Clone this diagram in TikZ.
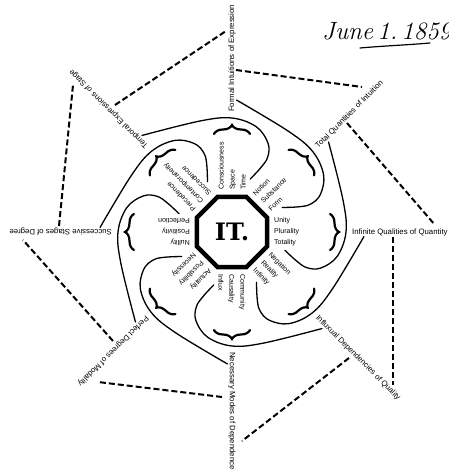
\documentclass[tikz,border=0pt]{standalone}
\usepackage{fontspec}
\newfontfamily\labfont{Liberation Sans}
\newfontfamily\itfont{DejaVu Serif}
\usetikzlibrary{decorations.pathreplacing}
\begin{document}
\begin{tikzpicture}[x=1pt,y=1pt,
  inlab/.style={font={\labfont\fontsize{7}{11}\selectfont}, align=left, inner sep=0pt, anchor=west},
  outlab/.style={font={\labfont\fontsize{7.8}{9}\selectfont}, inner sep=0pt, anchor=west},
  arcline/.style={line width=1.3pt, line cap=round},
  bracestyle/.style={decorate, decoration={brace, amplitude=9pt}, line width=2.2pt, line cap=round},
  dashline/.style={line width=2pt, dash pattern=on 6pt off 3pt}
]
\useasboundingbox (-232,-240) rectangle (216,232);

% central octagon
\node[inner sep=0pt] (it) at (0,0) {\itfont\bfseries\fontsize{24}{24}\selectfont IT.};
\draw[line width=4.5pt, line join=miter] (22.5:37.9pt) -- (67.5:37.9pt) -- (112.5:37.9pt) -- (157.5:37.9pt)
  -- (202.5:37.9pt) -- (247.5:37.9pt) -- (292.5:37.9pt) -- (337.5:37.9pt) -- cycle;

\foreach \a/\inn/\out [count=\i] in {
 90/{Consciousness\\Space\\Time}/{Formal Intuitions of Expression},
 45/{Notion\\Substance\\Form}/{Total Quantities of Intuition},
 0/{Unity\\Plurality\\Totality}/{Infinite Qualities of Quantity},
 -45/{Negation\\Reality\\Infinity}/{Influxual Dependencies of Quality},
 -90/{Community\\Causality\\Influx}/{Necessary Modes of Dependence},
 -135/{Actuality\\Possibility\\Necessity}/{Perfect Degrees of Modality},
 180/{Nullity\\Positivity\\Perfection}/{Successive Stages of Degree},
 135/{Precedence\\Contemporaneity\\Succedence}/{Temporal Expressions of Stage}}
{
 \node[inlab, rotate=\a] (in\i) at (\a:42pt) {\inn};
 \node[outlab, rotate=\a] (out\i) at (\a:120pt) {\out};
 \begin{scope}[rotate=\a]
  \draw[arcline] plot[smooth, tension=0.6] coordinates {(43:132pt) (16:115.5pt) (0:114pt) (-13:108pt) (-22:96pt) (-25.5:83pt) (-24:70pt) (-19:56pt)};
  \draw[bracestyle] (98pt,18pt) -- (98pt,-18pt);
 \end{scope}
}

% dashed connectors between outer labels
\coordinate (t1a) at (-117,127); \coordinate (t1b) at (-6,201);
\coordinate (t2a) at (4,162);    \coordinate (t2b) at (130,145);
\coordinate (t3a) at (115,109);  \coordinate (t3b) at (203,7);
\coordinate (t4a) at (161,-5);   \coordinate (t4b) at (161,-153);
\coordinate (t5a) at (117,-126); \coordinate (t5b) at (10,-209);
\coordinate (t6a) at (-10,-165); \coordinate (t6b) at (-134,-150);
\coordinate (t7a) at (-119,-109);\coordinate (t7b) at (-209,-8);
\coordinate (t8a) at (-173,6);   \coordinate (t8b) at (-159,147);
\foreach \k in {1,...,8}{\draw[dashline] (t\k a) -- (t\k b);}

% date
\node[anchor=base west, inner sep=0pt] (june) at (90,193) {\itshape\fontsize{25}{25}\selectfont June\,1.\,1859};
\draw[line width=1.2pt, line cap=round] (128,184) .. controls (150,186) and (175,187) .. (198,189);
\end{tikzpicture}
\end{document}
